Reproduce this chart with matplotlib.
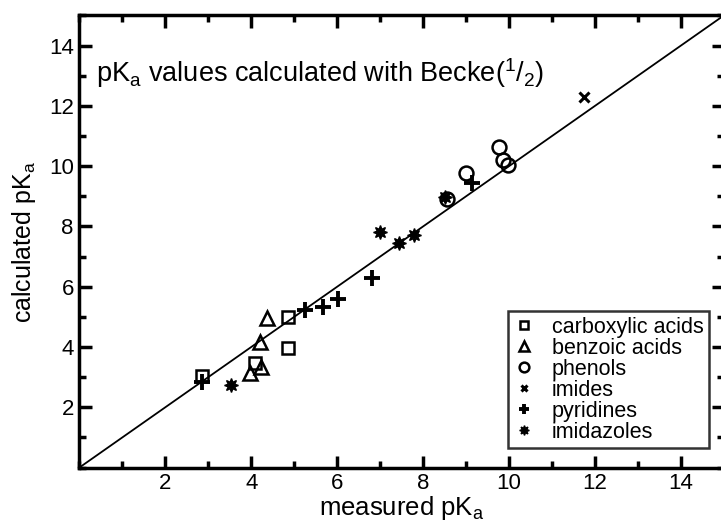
import matplotlib; matplotlib.use("Agg")
import matplotlib.pyplot as plt
from matplotlib.ticker import MultipleLocator

plt.rcParams["font.family"] = ["Liberation Sans", "DejaVu Sans"]
plt.rcParams["mathtext.fontset"] = "custom"
plt.rcParams["mathtext.rm"] = "Liberation Sans"
plt.rcParams["mathtext.it"] = "Liberation Sans"

# measured vs calculated pKa, per compound class
carb_x = [2.85, 4.09, 4.85, 4.85]
carb_y = [3.05, 3.48, 5.00, 3.98]
benz_x = [4.36, 4.20, 3.97, 4.23]
benz_y = [4.95, 4.18, 3.15, 3.33]
phen_x = [9.77, 9.87, 9.98, 9.01, 8.55]
phen_y = [10.64, 10.20, 10.04, 9.76, 8.90]
imid_x = [11.74]
imid_y = [12.30]
pyr_x = [2.85, 5.25, 5.68, 6.03, 6.82, 9.13]
pyr_y = [2.85, 5.23, 5.34, 5.59, 6.28, 9.45]
imz_x = [3.54, 7.00, 7.44, 7.79, 8.51]
imz_y = [2.74, 7.82, 7.44, 7.70, 8.98]

fig = plt.figure(figsize=(7.21, 5.27), dpi=100)
ax = fig.add_axes([0.110, 0.1127, 0.894, 0.858])

ax.plot([0, 15], [0, 15], color="black", lw=1.3, zorder=1)

ms = 9
mew = 1.8
ax.plot(carb_x, carb_y, "s", ms=ms, mfc="none", mec="black", mew=mew, label="carboxylic acids")
ax.plot(benz_x, benz_y, "^", ms=ms + 1, mfc="none", mec="black", mew=mew, label="benzoic acids")
ax.plot(phen_x, phen_y, "o", ms=ms + 1, mfc="none", mec="black", mew=mew, label="phenols")
ax.plot(imid_x, imid_y, "x", ms=7, mec="black", mew=2.2, label="imides")
ax.plot(pyr_x, pyr_y, "+", ms=11, mec="black", mew=2.8, label="pyridines")
ax.plot(imz_x, imz_y, marker=(8, 1, 0), ls="none", ms=10, mfc="black", mec="black", mew=1.0,
        label="imidazoles")

ax.set_xlim(0, 15)
ax.set_ylim(0, 15)
ax.xaxis.set_minor_locator(MultipleLocator(1))
ax.yaxis.set_minor_locator(MultipleLocator(1))
ax.set_xticks([2, 4, 6, 8, 10, 12, 14])
ax.set_yticks([2, 4, 6, 8, 10, 12, 14])
ax.tick_params(which="both", direction="in", top=True, right=True, width=2.5, labelsize=16)
ax.tick_params(which="major", length=9, pad=4)
ax.tick_params(which="minor", length=5)
for s in ax.spines.values():
    s.set_linewidth(2.5)

ax.set_xlabel(r"measured pK$_\mathregular{a}$", fontsize=18.5, labelpad=0)
ax.set_ylabel(r"calculated pK$_\mathregular{a}$", fontsize=18, labelpad=8)

ax.text(0.38, 13.1, r"pK$_\mathregular{a}$ values calculated with Becke($^\mathregular{1}$/$_\mathregular{2}$)",
        fontsize=19.5, va="center", ha="left")

leg = ax.legend(loc="lower right", bbox_to_anchor=(0.977, 0.043), fontsize=15.5, frameon=True,
                fancybox=False, edgecolor="black", handlelength=1.0, handletextpad=0.8,
                labelspacing=0.0, borderpad=0.25, borderaxespad=0.0, markerscale=0.7)
leg.get_frame().set_linewidth(1.8)

fig.savefig("out.png", dpi=100)
